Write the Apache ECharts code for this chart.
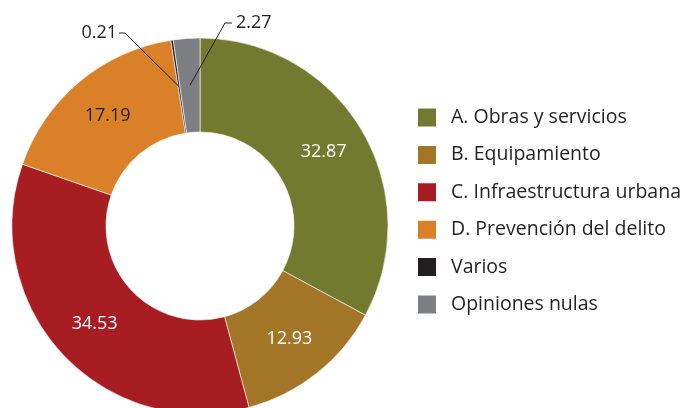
<!DOCTYPE html>
<html lang="es">

<head>
    <meta charset="UTF-8" />
    <style>
        html, body {
            margin: 0;
            padding: 0;
            background: #fff;
        }

        #chart {
            width: 681px;
            height: 408px;
        }
    </style>
    <script src="https://cdn.jsdelivr.net/npm/echarts@6/dist/echarts.min.js"></script>
</head>

<body>
    <div id="chart"></div>
    <script>
        // datos
        const categorias = ['A. Obras y servicios', 'B. Equipamiento', 'C. Infraestructura urbana',
            'D. Prevención del delito', 'Varios', 'Opiniones nulas']
        const valores = [32.87, 12.93, 34.53, 17.19, 0.21, 2.27]
        const colores = ['#717a2f', '#a37526', '#a81d22', '#d98028', '#231f20', '#7e7f83']
        const colorEtiqueta = ['#ffffff', '#ffffff', '#ffffff', '#231f20', '#231f20', '#231f20']

        const cx = 200, cy = 226, rIn = 94, rOut = 188
        const total = valores.reduce((a, b) => a + b, 0)

        // punto dentro de la rebanada donde empieza la linea guia
        function anclaRebanada (i, r) {
            let acum = 0
            for (let k = 0; k < i; k++) acum += valores[k]
            const mid = (acum + valores[i] / 2) / total * Math.PI * 2
            return [cx + r * Math.sin(mid), cy - r * Math.cos(mid)]
        }

        // etiquetas exteriores: posicion del texto y del quiebre de la linea
        const exteriores = {
            4: { x: 117, y: 33, align: 'right', quiebre: [125, 33], fin: [119, 33] },
            5: { x: 236, y: 23, align: 'left', quiebre: [225, 23], fin: [232, 23] }
        }

        const datos = valores.map((v, i) => {
            const fuera = exteriores[i] !== undefined
            return {
                name: categorias[i],
                value: v,
                itemStyle: { color: colores[i] },
                label: {
                    position: fuera ? 'outside' : 'inside',
                    color: colorEtiqueta[i]
                },
                labelLine: { show: false }
            }
        })

        const lineas = Object.keys(exteriores).map(k => {
            const e = exteriores[k]
            return {
                type: 'polyline',
                silent: true,
                shape: { points: [anclaRebanada(+k, 141), e.quiebre, e.fin] },
                style: { stroke: '#231f20', lineWidth: 1, fill: null },
                z: 10
            }
        })

        const chart = echarts.init(document.getElementById('chart'), null, { renderer: 'canvas' })
        chart.setOption({
            animation: false,
            legend: {
                orient: 'vertical',
                left: 416,
                top: 106.5,
                padding: 0,
                itemWidth: 20,
                itemHeight: 20,
                itemGap: 15.4,
                icon: 'rect',
                selectedMode: false,
                textStyle: {
                    fontFamily: 'Open Sans',
                    fontSize: 19.5,
                    lineHeight: 20,
                    color: '#231f20',
                    padding: [0, 0, 0, 9]
                },
                data: categorias
            },
            graphic: lineas,
            series: [
                {
                    type: 'pie',
                    center: [cx, cy],
                    radius: [rIn, rOut],
                    startAngle: 90,
                    clockwise: true,
                    avoidLabelOverlap: false,
                    itemStyle: {
                        borderColor: '#ffffff',
                        borderWidth: 0.6
                    },
                    label: {
                        show: true,
                        fontFamily: 'Open Sans',
                        fontSize: 18,
                        formatter: p => p.value.toFixed(2)
                    },
                    labelLayout: function (params) {
                        const e = exteriores[params.dataIndex]
                        if (e) {
                            return { x: e.x, y: e.y, align: e.align, verticalAlign: 'middle' }
                        }
                    },
                    data: datos
                }
            ]
        })
    </script>
</body>

</html>
